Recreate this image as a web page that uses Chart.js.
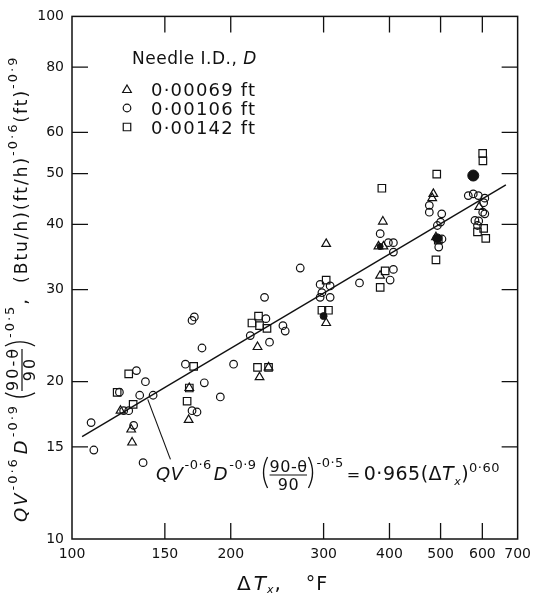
<!DOCTYPE html>
<html><head><meta charset="utf-8">
<script src="https://cdn.jsdelivr.net/npm/chart.js@4.4.1/dist/chart.umd.min.js"></script>
<style>html,body{margin:0;padding:0;background:#fff;} #wrap{width:538px;height:599px;}</style>
</head><body><div id="wrap"><canvas id="c" width="538" height="599"></canvas></div>
<script>
// ---- axis ticks ----
const xTickValues = [100, 150, 200, 300, 400, 500, 600, 700];
const yTickValues = [10, 15, 20, 30, 40, 50, 60, 80, 100];

// ---- legend ----
const legendTitle = 'Needle I.D., ';
const legendTitleVar = 'D';
const seriesLabels = ['0·00069 ft', '0·00106 ft', '0·00142 ft'];

// ---- series: Needle I.D. 0.00069 ft (triangles) ----
const triDT = [123.6, 129.5, 130.0, 166.9, 166.4, 224.8, 226.8, 235.9, 303.4, 303.4, 388.6, 381.2, 389.6, 384.0, 484.4, 482.0, 490.0, 592.0];
const triY  = [17.6, 16.2, 15.3, 19.45, 16.9, 23.3, 20.4, 21.3, 36.7, 25.9, 40.5, 36.3, 36.3, 31.9, 45.75, 44.9, 37.8, 43.2];

// ---- series: Needle I.D. 0.00106 ft (circles) ----
const cirDT = [108.7, 110.0, 136.4, 130.9, 125.3, 128.1, 123.0, 132.5, 137.8, 134.4, 142.5,
               164.1, 168.9, 170.6, 176.4, 178.2, 191.1, 168.9, 172.6, 202.5,
               217.8, 236.9, 233.2, 231.8, 251.2, 253.7,
               270.9, 295.5, 308.7, 297.8, 308.7, 295.5, 350.9,
               384.1, 398.1, 406.9, 406.9, 406.9, 401.1,
               476.0, 476.0, 502.5, 500.0, 493.0, 503.0, 496.0,
               564.3, 576.7, 589.6, 606.5, 603.5, 601.0, 606.5, 580.9, 590.6, 587.4];
const cirY  = [16.7, 14.8, 14.0, 16.5, 17.6, 17.6, 19.1, 21.0, 20.0, 18.84, 18.84,
               21.6, 26.2, 26.6, 23.2, 19.9, 18.7, 17.6, 17.5, 21.6,
               24.5, 23.8, 26.4, 29.0, 25.6, 25.0,
               33.0, 30.7, 30.5, 29.6, 29.0, 29.0, 30.9,
               38.4, 36.9, 36.9, 35.4, 32.8, 31.3,
               43.5, 42.2, 41.9, 40.4, 39.8, 37.5, 36.2,
               45.4, 45.75, 45.4, 44.9, 44.0, 42.2, 41.9, 40.7, 40.6, 39.8];

// ---- series: Needle I.D. 0.00142 ft (squares) ----
const sqDT = [121.8, 128.1, 130.6, 170.1, 166.9, 165.3, 219.4, 225.8, 226.8, 234.3, 224.8, 235.9,
              303.4, 297.8, 306.4, 386.9, 392.5, 384.1, 491.7, 490.0, 495.0, 600.9, 601.5, 587.4, 603.5, 609.0];
const sqY  = [19.08, 20.7, 18.1, 21.4, 19.45, 18.35, 25.9, 26.7, 25.6, 25.3, 21.3, 21.3,
              31.3, 27.4, 27.4, 46.9, 32.6, 30.3, 49.9, 34.2, 37.3, 54.7, 52.9, 38.7, 39.3, 37.6];

// ---- overlapping points printed solid ----
const solidDT = [576.7, 493.0, 300.0, 384.0];
const solidY  = [49.6, 37.6, 26.7, 36.3];

// ---- correlation line QV^-0.6 D^-0.9 ((90-θ)/90)^-0.5 = 0.965 ΔTx^0.60 ----
const fitDT = [104.5, 665];
const fitY  = [15.7, 47.6];
// ---- leader from the equation label to the line ----
const leaderDT = [139.2, 153.7];
const leaderY  = [18.5, 14.2];

const FONT = '"DejaVu Sans", sans-serif';
const pts = (xs, ys) => xs.map((x, i) => ({x, y: ys[i]}));

function setFont(ctx, p) {
  ctx.font = (p.it ? 'italic ' : '') + p.s + 'px ' + FONT;
  ctx.letterSpacing = (p.ls !== undefined ? p.ls : 0) + 'px';
}
function drawRich(ctx, parts, x, y, ls) {
  let cx = x;
  ctx.textAlign = 'left';
  ctx.textBaseline = 'alphabetic';
  for (const p of parts) {
    cx += p.pre || 0;
    const q = Object.assign({ls: ls}, p);
    if (p.paren) {
      const top = y + p.top, bot = top + p.h, w = p.w;
      ctx.beginPath(); ctx.lineWidth = 1.3;
      if (p.paren === '(') {
        ctx.moveTo(cx + w, top); ctx.quadraticCurveTo(cx - w * 0.35, (top + bot) / 2, cx + w, bot);
      } else {
        ctx.moveTo(cx, top); ctx.quadraticCurveTo(cx + w * 1.35, (top + bot) / 2, cx, bot);
      }
      ctx.stroke();
      cx += w + 2;
      continue;
    }
    setFont(ctx, q);
    if (p.num !== undefined) {
      const wn = ctx.measureText(p.num).width, wd = ctx.measureText(p.den).width;
      const w = Math.max(wn, wd);
      ctx.fillText(p.num, cx + (w - wn) / 2, y + p.nd);
      ctx.fillText(p.den, cx + (w - wd) / 2, y + p.dd);
      ctx.beginPath(); ctx.lineWidth = 1.2;
      ctx.moveTo(cx, y + p.bd); ctx.lineTo(cx + w - (ls || 0), y + p.bd); ctx.stroke();
      cx += w;
    } else {
      ctx.fillText(p.t, cx, y + (p.dy || 0));
      cx += ctx.measureText(p.t).width;
    }
    cx += p.post || 0;
  }
  ctx.letterSpacing = '0px';
  return cx;
}
function marker(ctx, style, x, y, r) {
  ctx.beginPath();
  if (style === 'circle') ctx.arc(x, y, r, 0, Math.PI * 2);
  else if (style === 'rect') { const s = r * Math.SQRT1_2; ctx.rect(x - s, y - s, 2 * s, 2 * s); }
  else if (style === 'triangle') {
    for (let k = 0; k < 3; k++) {
      const a = k * 2 * Math.PI / 3;
      const px = x + Math.sin(a) * r, py = y - Math.cos(a) * r;
      k ? ctx.lineTo(px, py) : ctx.moveTo(px, py);
    }
    ctx.closePath();
  }
  ctx.stroke();
}

const decor = {
  id: 'decor',
  afterDraw(chart) {
    const ctx = chart.ctx, a = chart.chartArea, xs = chart.scales.x, ys = chart.scales.y;
    ctx.save();
    ctx.strokeStyle = '#111'; ctx.fillStyle = '#111';
    // frame
    ctx.lineWidth = 1.5;
    ctx.strokeRect(a.left, a.top, a.right - a.left, a.bottom - a.top);
    // inner ticks on all four sides
    ctx.lineWidth = 1.3;
    const TL = 16;
    ctx.beginPath();
    xTickValues.slice(1, -1).forEach(v => {
      const p = xs.getPixelForValue(v);
      ctx.moveTo(p, a.bottom); ctx.lineTo(p, a.bottom - TL);
      ctx.moveTo(p, a.top); ctx.lineTo(p, a.top + TL);
    });
    yTickValues.slice(1, -1).forEach(v => {
      const p = ys.getPixelForValue(v);
      ctx.moveTo(a.left, p); ctx.lineTo(a.left + TL, p);
      ctx.moveTo(a.right, p); ctx.lineTo(a.right - TL, p);
    });
    ctx.stroke();

    // legend
    drawRich(ctx, [{t: legendTitle, s: 17}, {t: legendTitleVar, s: 17, it: 1}], 132, 64, 0.5);
    const styles = ['triangle', 'circle', 'rect'];
    const radii = [5, 3.8, 5.3];
    ctx.lineWidth = 1.2;
    seriesLabels.forEach((lab, i) => {
      const yy = 89 + i * 19;
      marker(ctx, styles[i], 127, yy + (i === 0 ? 1 : 0), radii[i]);
      drawRich(ctx, [{t: lab, s: 18}], 151, yy + 7, 1.2);
    });

    // equation label
    const eq = [
      {t: 'Q', s: 18, it: 1}, {t: 'V', s: 18, it: 1}, {t: '-0·6', s: 13, dy: -11, pre: 1},
      {t: 'D', s: 18, it: 1, pre: 2}, {t: '-0·9', s: 13, dy: -11, pre: 1},
      {paren: '(', top: -23, h: 31, w: 6, pre: 5}, {num: '90-θ', den: '90', s: 16, nd: -8, dd: 10, bd: -5},
      {paren: ')', top: -23, h: 31, w: 6, pre: 1},
      {t: '-0·5', s: 13, dy: -13},
      {t: '=', s: 16, pre: 3}, {t: '0·965', s: 19, pre: 3}, {t: '(', s: 19}, {t: 'Δ', s: 19},
      {t: 'T', s: 19, it: 1}, {t: 'x', s: 11, it: 1, dy: 5}, {t: ')', s: 19}, {t: '0·60', s: 13, dy: -8}
    ];
    drawRich(ctx, eq, 156, 480, 0.5);

    // x axis title
    drawRich(ctx, [{t: 'Δ', s: 20}, {t: 'T', s: 20, it: 1, pre: 2}, {t: 'x', s: 11, it: 1, dy: 3},
                   {t: ',', s: 20}, {t: '°F', s: 19, pre: 24}], 237, 590, 1);

    // y axis title (rotated)
    ctx.save();
    ctx.translate(27, 522);
    ctx.rotate(-Math.PI / 2);
    const yt = [
      {t: 'Q', s: 18, it: 1}, {t: 'V', s: 18, it: 1}, {t: '-0·6', s: 13, dy: -10, pre: 1},
      {t: 'D', s: 18, it: 1, pre: 3}, {t: '-0·9', s: 13, dy: -10, pre: 1},
      {paren: '(', top: -22, h: 30, w: 6, pre: 5}, {num: '90-θ', den: '90', s: 16, nd: -9, dd: 8, bd: -5},
      {paren: ')', top: -22, h: 30, w: 6, pre: 1},
      {t: '-0·5', s: 13, dy: -13}, {t: ',', s: 18},
      {t: '(Btu/h)(ft/h)', s: 17, pre: 14}, {t: '-0·6', s: 13, dy: -10},
      {t: '(ft)', s: 17}, {t: '-0·9', s: 13, dy: -10}
    ];
    drawRich(ctx, yt, 0, 0, 2);
    ctx.restore();
    ctx.restore();
  }
};

const openStyle = {backgroundColor: 'rgba(0,0,0,0)', borderColor: '#111', borderWidth: 1.2, showLine: false};

new Chart(document.getElementById('c'), {
  type: 'scatter',
  data: {
    datasets: [
      Object.assign({label: seriesLabels[0], data: pts(triDT, triY), pointStyle: 'triangle', pointRadius: 5}, openStyle),
      Object.assign({label: seriesLabels[1], data: pts(cirDT, cirY), pointStyle: 'circle', pointRadius: 3.8}, openStyle),
      Object.assign({label: seriesLabels[2], data: pts(sqDT, sqY), pointStyle: 'rect', pointRadius: 5.3}, openStyle),
      {label: 'solid', data: pts(solidDT, solidY), pointStyle: 'circle', pointRadius: [5.5, 4.5, 3.5, 3],
       backgroundColor: '#111', borderColor: '#111', borderWidth: 1, showLine: false},
      {label: 'fit', data: pts(fitDT, fitY), showLine: true, pointRadius: 0, borderColor: '#111', borderWidth: 1.4, fill: false},
      {label: 'leader', data: pts(leaderDT, leaderY), showLine: true, pointRadius: 0, borderColor: '#111', borderWidth: 1.1, fill: false}
    ]
  },
  options: {
    responsive: false,
    animation: false,
    events: [],
    layout: {padding: {left: 0, right: 20, top: 13, bottom: 0}},
    plugins: {legend: {display: false}, tooltip: {enabled: false}, title: {display: false}},
    scales: {
      x: {
        type: 'logarithmic', min: 100, max: 700,
        afterBuildTicks: ax => { ax.ticks = xTickValues.map(v => ({value: v})); },
        afterFit: ax => { ax.height = 60; },
        grid: {display: false, drawTicks: false},
        border: {display: false},
        ticks: {autoSkip: false, maxRotation: 0, padding: 7, color: '#111',
                font: {family: FONT, size: 14}, callback: v => String(v)}
      },
      y: {
        type: 'logarithmic', min: 10, max: 100,
        afterBuildTicks: ax => { ax.ticks = yTickValues.map(v => ({value: v})); },
        afterFit: ax => { ax.width = 72; },
        grid: {display: false, drawTicks: false},
        border: {display: false},
        ticks: {autoSkip: false, padding: 8, color: '#111',
                font: {family: FONT, size: 14}, callback: v => String(v)}
      }
    }
  },
  plugins: [decor]
});
</script>
</body></html>
